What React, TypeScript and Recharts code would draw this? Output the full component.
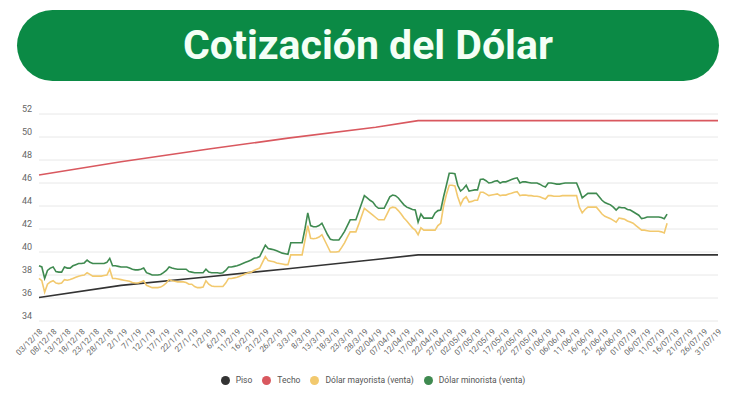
import { LineChart, Line, XAxis, YAxis, CartesianGrid } from 'recharts';

// one label every 5 days, 03/12/18 .. 31/07/19 (format as in the source)
const tickLabels = [
  '03/12/18', '08/12/18', '13/12/18', '18/12/18', '23/12/18', '28/12/18',
  '2/1/19', '7/1/19', '12/1/19', '17/1/19', '22/1/19', '27/1/19',
  '1/2/19', '6/2/19', '11/2/19', '16/2/19', '21/2/19', '26/2/19',
  '3/3/19', '8/3/19', '13/3/19', '18/3/19', '23/3/19', '28/3/19',
  '02/04/19', '07/04/19', '12/04/19', '17/04/19', '22/04/19', '27/04/19',
  '02/05/19', '07/05/19', '12/05/19', '17/05/19', '22/05/19', '27/05/19',
  '01/06/19', '06/06/19', '11/06/19', '16/06/19', '21/06/19', '26/06/19',
  '01/07/19', '06/07/19', '11/07/19', '16/07/19', '21/07/19', '26/07/19', '31/07/19',
];

const yTicks = [34, 36, 38, 40, 42, 44, 46, 48, 50, 52];

// daily values from 03/12/18
const minorista = [
  38.8, 38.7, 37.7, 38.4, 38.6, 38.7, 38.3, 38.25, 38.25, 38.7,
  38.6, 38.6, 38.8, 38.9, 39.0, 39.0, 39.05, 39.3, 39.1, 39.0,
  39.0, 39.0, 39.0, 39.0, 39.1, 39.45, 38.8, 38.8, 38.75, 38.7,
  38.7, 38.7, 38.6, 38.5, 38.45, 38.45, 38.5, 38.6, 38.2, 38.1,
  38.0, 38.0, 38.0, 38.05, 38.2, 38.4, 38.7, 38.6, 38.55, 38.5,
  38.5, 38.5, 38.5, 38.3, 38.25, 38.2, 38.2, 38.2, 38.2, 38.5,
  38.25, 38.2, 38.2, 38.2, 38.15, 38.2, 38.4, 38.7, 38.7, 38.75,
  38.8, 38.9, 39.0, 39.1, 39.2, 39.3, 39.45, 39.5, 39.6, 40.1,
  40.6, 40.3, 40.25, 40.2, 40.1, 40.0, 39.9, 39.85, 39.8, 40.8,
  40.8, 40.8, 40.8, 40.8, 42.0, 43.4, 42.3, 42.2, 42.2, 42.3,
  42.5, 42.0, 41.5, 41.1, 41.05, 41.05, 41.05, 41.4, 41.8, 42.3,
  42.8, 42.8, 42.8, 43.5, 44.2, 44.9, 44.7, 44.5, 44.35, 44.0,
  43.8, 43.8, 43.8, 44.3, 44.8, 44.95, 44.9, 44.7, 44.4, 44.1,
  43.9, 43.8, 43.7, 43.65, 42.6, 43.3, 42.95, 42.95, 42.95, 42.95,
  43.4, 43.6, 43.65, 44.8, 45.8, 46.85, 46.85, 46.8, 45.8, 45.3,
  45.5, 45.8, 45.3, 45.35, 45.4, 45.4, 46.3, 46.35, 46.2, 46.0,
  46.05, 46.15, 46.2, 46.0, 46.1, 46.1, 46.2, 46.3, 46.4, 46.45,
  46.0, 46.1, 46.1, 46.05, 46.0, 46.0, 46.0, 45.9, 45.75, 45.65,
  46.0, 46.0, 45.95, 45.9, 45.9, 45.95, 46.0, 46.0, 46.0, 46.0,
  46.0, 45.4, 44.7, 44.9, 45.1, 45.1, 45.1, 45.1, 44.8, 44.5,
  44.3, 44.2, 44.1, 43.9, 43.65, 43.9, 43.85, 43.85, 43.7, 43.65,
  43.5, 43.35, 43.2, 42.9, 42.95, 43.05, 43.05, 43.05, 43.05, 43.05,
  43.0, 42.9, 43.3,
];

const mayorista = [
  37.7, 37.5, 36.5, 37.2, 37.4, 37.5, 37.3, 37.25, 37.3, 37.6,
  37.55, 37.6, 37.7, 37.8, 37.9, 37.95, 38.0, 38.2, 38.05, 37.9,
  37.9, 37.9, 37.9, 37.95, 38.0, 38.5, 37.7, 37.7, 37.65, 37.6,
  37.55, 37.5, 37.45, 37.35, 37.3, 37.3, 37.4, 37.5, 37.1, 37.0,
  36.9, 36.9, 36.9, 36.95, 37.1, 37.3, 37.6, 37.5, 37.45, 37.4,
  37.4, 37.4, 37.35, 37.2, 37.2, 37.0, 36.9, 36.9, 36.95, 37.5,
  37.2, 37.05, 37.0, 37.0, 37.0, 37.0, 37.3, 37.7, 37.7, 37.75,
  37.8, 37.9, 38.0, 38.1, 38.2, 38.25, 38.4, 38.5, 38.6, 39.1,
  39.6, 39.25, 39.2, 39.15, 39.05, 39.0, 38.95, 38.9, 38.9, 39.75,
  39.75, 39.75, 39.75, 39.75, 41.0, 42.3, 41.2, 41.15, 41.2, 41.3,
  41.5, 41.0, 40.5, 40.0, 40.0, 40.0, 40.05, 40.4, 40.8, 41.3,
  41.75, 41.75, 41.75, 42.4, 43.1, 43.8, 43.6, 43.4, 43.2, 43.0,
  42.8, 42.8, 42.8, 43.3, 43.8, 43.9, 43.85, 43.6, 43.3, 42.95,
  42.7, 42.4, 42.1, 41.9, 41.5, 42.1, 41.9, 41.9, 41.9, 41.9,
  41.9, 42.3, 42.5, 44.0, 45.0, 45.8, 45.8, 45.75, 44.8, 44.1,
  44.6, 44.8, 44.35, 44.4, 44.5, 44.5, 45.2, 45.2, 45.05, 44.9,
  44.95, 45.0, 45.05, 44.9, 44.95, 44.95, 45.05, 45.1, 45.2, 45.25,
  44.9, 44.95, 44.95, 44.9, 44.9, 44.85, 44.85, 44.8, 44.7, 44.6,
  44.9, 44.9, 44.85, 44.85, 44.85, 44.9, 44.9, 44.9, 44.9, 44.9,
  44.9, 43.9, 43.4, 43.7, 43.9, 43.9, 43.9, 43.9, 43.6, 43.3,
  43.1, 43.0, 42.9, 42.75, 42.6, 42.95, 42.9, 42.85, 42.7, 42.6,
  42.5, 42.3, 42.1, 41.9, 41.9, 41.85, 41.8, 41.8, 41.8, 41.8,
  41.75, 41.65, 42.5,
];

// band (zona de no intervención) at its turning points
const bandDays = [0, 29, 60, 88, 119, 134, 240];
const piso = [36.05, 37.1, 37.85, 38.55, 39.35, 39.75, 39.75];
const techo = [46.7, 47.85, 48.95, 49.9, 50.85, 51.42, 51.42];

const TOTAL_DAYS = 240;

const colors = {
  piso: '#333333',
  techo: '#d9585f',
  mayorista: '#f2c96e',
  minorista: '#3f8a50',
};

const legendItems = [
  { label: 'Piso', color: colors.piso },
  { label: 'Techo', color: colors.techo },
  { label: 'Dólar mayorista (venta)', color: colors.mayorista },
  { label: 'Dólar minorista (venta)', color: colors.minorista },
];

const rows = Array.from({ length: TOTAL_DAYS + 1 }, (_, day) => {
  const b = bandDays.indexOf(day);
  return {
    day,
    piso: b >= 0 ? piso[b] : null,
    techo: b >= 0 ? techo[b] : null,
    mayorista: day < mayorista.length ? mayorista[day] : null,
    minorista: day < minorista.length ? minorista[day] : null,
  };
});

const font = 'Roboto, "Noto Sans", sans-serif';

const XTick = ({ x, payload }: any) => {
  const tx = x + 4;
  const ty = 332;
  return (
    <text
      x={tx}
      y={ty}
      transform={`rotate(-45 ${tx} ${ty})`}
      textAnchor="end"
      fontSize={8}
      fill="#666"
      fontFamily={font}
    >
      {tickLabels[Math.round(payload.value / 5)]}
    </text>
  );
};

const YTick = ({ y, payload }: any) => (
  <text x={32} y={y - 2} textAnchor="end" fontSize={9} fill="#666" fontFamily={font}>
    {payload.value}
  </text>
);

export default function App() {
  return (
    <div style={{ position: 'fixed', left: 0, top: 0, width: 746, height: 395, background: '#fff' }}>
      <div
        style={{
          position: 'absolute',
          left: 17,
          top: 10,
          width: 702,
          height: 71,
          borderRadius: 36,
          background: '#0b8a45',
          color: '#f4fff6',
          fontFamily: font,
          fontWeight: 700,
          fontSize: 41,
          lineHeight: '71px',
          textAlign: 'center',
        }}
      >
        Cotización del Dólar
      </div>

      <div style={{ position: 'absolute', left: 0, top: 0 }}>
        <LineChart
          width={746}
          height={395}
          data={rows}
          margin={{ top: 114, right: 28, bottom: 34, left: 9 }}
        >
          <CartesianGrid vertical={false} stroke="#e8e8e8" />
          <XAxis
            dataKey="day"
            type="number"
            domain={[0, TOTAL_DAYS]}
            ticks={tickLabels.map((_, i) => i * 5)}
            interval={0}
            height={40}
            tick={<XTick />}
            tickLine={false}
            axisLine={false}
          />
          <YAxis
            width={30}
            domain={[34, 52]}
            ticks={yTicks}
            interval={0}
            tick={<YTick />}
            tickLine={false}
            axisLine={false}
          />
          <Line type="linear" dataKey="piso" stroke={colors.piso} strokeWidth={1.6} dot={false} connectNulls isAnimationActive={false} />
          <Line type="linear" dataKey="techo" stroke={colors.techo} strokeWidth={1.6} dot={false} connectNulls isAnimationActive={false} />
          <Line type="linear" dataKey="mayorista" stroke={colors.mayorista} strokeWidth={1.6} dot={false} isAnimationActive={false} />
          <Line type="linear" dataKey="minorista" stroke={colors.minorista} strokeWidth={1.6} dot={false} isAnimationActive={false} />
        </LineChart>
      </div>

      <div
        style={{
          position: 'absolute',
          left: 0,
          top: 375,
          width: 746,
          display: 'flex',
          justifyContent: 'center',
          alignItems: 'center',
          gap: 10,
          fontFamily: font,
          fontSize: 8.5,
          color: '#555',
        }}
      >
        {legendItems.map((item) => (
          <span key={item.label} style={{ display: 'flex', alignItems: 'center', gap: 6 }}>
            <span
              style={{ width: 9, height: 9, borderRadius: '50%', background: item.color, display: 'inline-block' }}
            />
            {item.label}
          </span>
        ))}
      </div>
    </div>
  );
}
